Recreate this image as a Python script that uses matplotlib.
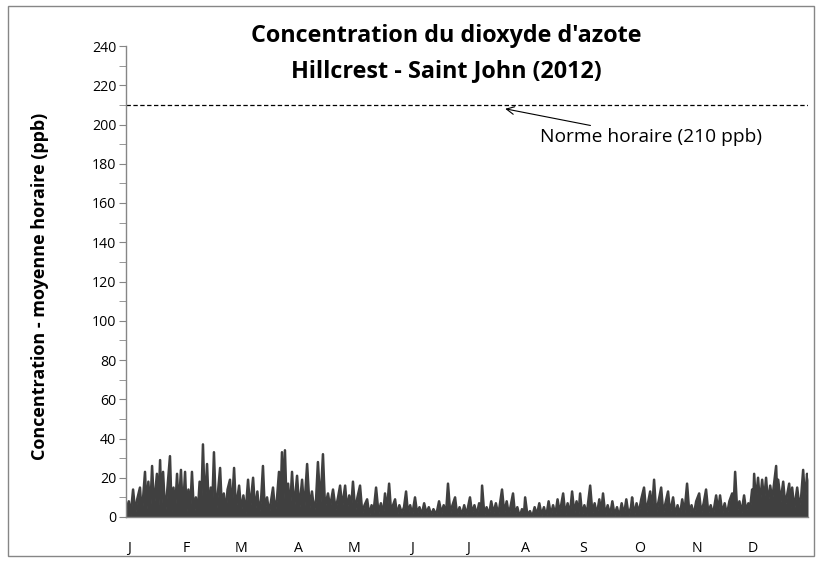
import matplotlib
matplotlib.use("Agg")
import matplotlib.pyplot as plt
from matplotlib.patches import Rectangle

# ---- data (day of year 2012, hourly NO2 ppb) ----
day = [0, 1.5, 2.5, 3.8, 5, 6, 7.5, 8.5, 10.2, 11, 12, 13, 14, 15, 16.6, 17.3, 18.3, 19, 19.9, 21, 22, 23.6, 24.5, 25.5, 26.3, 27.4, 28.3, 29.5, 30.5, 31.7,
       32.5, 33.5, 34.5, 35.4, 36.5, 37.5, 38.5, 39.5, 40.3, 41.3, 42.3, 43.5, 44.5, 45.5, 46.2, 47.2, 48.3, 49.3, 50.5, 51.5, 52.5, 53.5, 54.5, 55.8, 56.8, 58, 59,
       60.7, 61.8, 63, 64.2, 65.5, 66.6, 68.2, 69.3, 70.5, 71.5, 72.5, 73.5, 74.5, 75.7, 76.8, 77.8, 78.9, 80, 81, 82.1, 82.9, 83.7, 84.5, 85.3, 86.2, 87, 88, 89.1, 90.2,
       91.8, 93, 94.5, 95.6, 97.2, 98.5, 99.8, 101, 102, 103, 104.3, 105.7, 106.8, 108.4, 109.5, 110.2, 111.1, 112.5, 113.8, 114.9, 116, 117.6, 118.6, 119.8,
       120.8, 121.8, 123, 124.2, 125.6, 126.8, 128, 129.4, 130.6, 131.8, 132.8, 134.2, 135.5, 136.8, 138, 139, 140, 141.2, 142.3, 143.3, 144.4, 145.5, 146.7, 148, 149.2, 150.3, 151.3,
       152.5, 153.6, 155.1, 156.2, 157.5, 158.7, 160, 161.2, 162.5, 163.8, 165, 166.5, 168, 169.3, 170.5, 171.7, 172.8, 174, 175.2, 176.6, 177.7, 179, 180.3, 181.5,
       182.7, 184.6, 185.7, 187, 188.2, 189.5, 190.5, 191.1, 192.3, 193.5, 194.8, 196, 197.2, 198.5, 199.8, 201.8, 203, 204.3, 205.5, 206.5, 207.7, 208.8, 210, 211.3, 212.5,
       213.5, 214.2, 215.4, 216.8, 218, 219.3, 220.5, 221.8, 223, 224.3, 225.5, 226.8, 228, 229.2, 230.4, 231.6, 232.8, 234.6, 235.8, 237, 238.2, 239.4, 240.6, 241.8, 242.8,
       243.7, 244.8, 246, 247.2, 249.1, 250.3, 251.5, 252.7, 254, 255, 256, 257.2, 258.5, 259.8, 261, 262.2, 263.5, 264.7, 266, 267.2, 268.5, 269.7, 271,
       271.6, 272.8, 274, 275.2, 276.5, 278, 279.2, 280.3, 281.3, 282.3, 283.4, 284.5, 285.8, 287.2, 288.3, 289.5, 290.9, 292, 293.6, 294.8, 296, 297.3, 298.5, 299.7, 301.1, 302.3, 303.5,
       304.7, 306, 307.6, 308.7, 310, 311.3, 312.5, 313.8, 315, 316.7, 317.8, 318.8, 320, 321.3, 322.5, 323.8, 325.3, 326, 326.9, 328, 329.2, 330.3, 331.7, 332.8, 334,
       335, 336, 336.6, 337.1, 338, 339.2, 340.2, 341.4, 342.4, 343.5, 344.5, 345.7, 346.8, 348.9, 349.5, 350, 351.3, 352.7, 353.8, 355.9, 356.7, 357.5, 358.6, 360.2, 361.3, 362.3, 363.4, 364.4, 365.5, 366]
no2 = [3, 8, 1, 14, 2, 9, 15, 1, 23, 4, 18, 3, 26, 5, 22, 2, 29, 6, 23, 2, 12, 31, 3, 15, 2, 22, 4, 24, 2, 23,
       3, 14, 4, 23, 1, 10, 2, 18, 3, 37, 5, 27, 2, 15, 3, 33, 2, 12, 25, 3, 12, 2, 14, 19, 3, 25, 4,
       16, 3, 11, 2, 19, 4, 20, 3, 13, 2, 9, 26, 3, 10, 2, 8, 15, 3, 9, 23, 6, 33, 8, 34, 5, 17, 3, 23, 4,
       21, 4, 19, 3, 27, 5, 13, 3, 9, 28, 6, 32, 5, 12, 5, 9, 14, 4, 10, 16, 5, 16, 4, 11,
       4, 18, 3, 10, 16, 2, 6, 9, 1, 6, 2, 15, 2, 7, 1, 12, 3, 17, 2, 6, 9, 1, 6, 2, 5, 13, 2,
       6, 1, 10, 2, 5, 1, 7, 2, 5, 1, 4, 1, 8, 2, 6, 1, 17, 2, 6, 10, 1, 5, 1, 6,
       1, 10, 2, 6, 1, 7, 2, 16, 1, 5, 1, 8, 2, 7, 1, 14, 2, 8, 1, 6, 12, 1, 5, 0, 4,
       0, 10, 1, 3, 0, 5, 1, 7, 1, 5, 0, 8, 1, 6, 1, 9, 2, 12, 1, 7, 1, 13, 2, 8, 1,
       12, 1, 6, 1, 16, 2, 7, 1, 9, 2, 12, 1, 6, 1, 8, 1, 5, 0, 7, 1, 9, 1, 5,
       10, 1, 7, 2, 9, 15, 2, 8, 13, 3, 19, 2, 8, 15, 2, 7, 13, 2, 10, 1, 6, 1, 9, 2, 17, 2, 6,
       1, 8, 12, 2, 7, 14, 2, 6, 1, 11, 3, 11, 2, 7, 1, 8, 12, 4, 23, 3, 8, 2, 11, 3, 7,
       5, 14, 7, 22, 8, 20, 7, 19, 8, 20, 7, 16, 9, 26, 10, 19, 8, 18, 6, 17, 5, 15, 4, 15, 6, 10, 24, 8, 22, 19]

norm_value = 210
month_starts = [0, 31, 60, 91, 121, 152, 182, 213, 244, 274, 305, 335]
month_labels = ["J", "F", "M", "A", "M", "J", "J", "A", "S", "O", "N", "D"]
title_lines = ["Concentration du dioxyde d'azote", "Hillcrest - Saint John (2012)"]
ylabel = "Concentration - moyenne horaire (ppb)"
norm_label = "Norme horaire (210 ppb)"

plt.rcParams['font.family'] = ['Open Sans', 'DejaVu Sans']

W, H = 820, 563
fig = plt.figure(figsize=(W / 100, H / 100), dpi=100)
ax = fig.add_axes([126 / W, 1 - 517 / H, (808 - 126) / W, (517 - 46) / H])

grey = "#868686"
dark = "#404040"
ax.fill_between(day, 0, no2, color=dark, lw=0)
ax.plot(day, no2, color=dark, lw=1.8)
ax.axhline(norm_value, color="black", lw=0.9, ls=(0, (3.5, 2)))

ax.set_xlim(0, 366)
ax.set_ylim(0, 240)
ax.set_yticks(range(0, 241, 20))
ax.set_yticks(range(10, 240, 20), minor=True)
ax.set_xticks([m + 1.5 for m in month_starts])
ax.set_xticklabels(month_labels)
ax.tick_params(axis="y", which="both", direction="out", length=5, color=grey, labelsize=10.2, pad=2)
ax.tick_params(axis="x", length=0, labelsize=10.2, pad=17)

for s in ("top", "right"):
    ax.spines[s].set_visible(False)
for s in ("left", "bottom"):
    ax.spines[s].set_color(grey)
    ax.spines[s].set_linewidth(1.0)

fig.text(446 / W, 1 - 36 / H, title_lines[0], fontsize=16.8, fontweight="bold",
         ha="center", va="center")
fig.text(446 / W, 1 - 71 / H, title_lines[1], fontsize=16.8, fontweight="bold",
         ha="center", va="center")

fig.text(40 / W, 1 - 286 / H, ylabel, rotation=90, fontsize=13, fontweight="bold",
         ha="center", va="center")

ax.annotate(norm_label, xy=(203.5, 208), xytext=(222, 193.5),
            fontsize=13.8, ha="left", va="center",
            arrowprops=dict(arrowstyle="->", color="black", lw=0.8,
                            shrinkA=0, shrinkB=0))

fig.patches.append(Rectangle((8 / W, 1 - 556 / H), (814 - 8) / W, (556 - 6) / H,
                             transform=fig.transFigure, fill=False,
                             edgecolor=grey, lw=1.0))

fig.savefig("out.png", dpi=100)
